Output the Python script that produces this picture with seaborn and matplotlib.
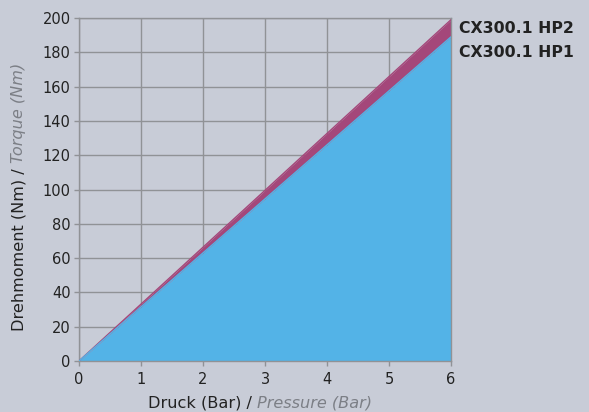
import matplotlib.pyplot as plt
import seaborn as sns
import pandas as pd

# values
pressure = [0, 6]
torque_hp1 = [0, 189]
torque_hp2 = [0, 199]
series_names = ["CX300.1 HP2", "CX300.1 HP1"]
x_ticks = [0, 1, 2, 3, 4, 5, 6]
y_ticks = [0, 20, 40, 60, 80, 100, 120, 140, 160, 180, 200]

bg = "#c8ccd7"
grid_col = "#909296"
blue = "#53b3e7"
purple = "#a4477a"
text_col = "#222222"
grey_text = "#7c7f86"

sns.set_style("whitegrid", {
    "axes.facecolor": bg,
    "figure.facecolor": bg,
    "grid.color": grid_col,
    "axes.edgecolor": grid_col,
    "xtick.bottom": True,
    "ytick.left": True,
})
plt.rcParams["font.family"] = ["DejaVu Sans"]
plt.rcParams["xtick.major.size"] = 3.6
plt.rcParams["ytick.major.size"] = 3.6

df = pd.DataFrame({
    "pressure": pressure * 2,
    "torque": torque_hp2 + torque_hp1,
    "series": [series_names[0]] * 2 + [series_names[1]] * 2,
})

fig = plt.figure(figsize=(5.89, 4.12), dpi=100)
ax = fig.add_axes([79 / 589, 1 - 361 / 412, (451 - 79) / 589, (361 - 18) / 412])

ax.fill_between(pressure, 0, torque_hp1, color=blue, lw=0, zorder=2)
ax.fill_between(pressure, torque_hp1, torque_hp2, color=purple, lw=0, zorder=2)
sns.lineplot(data=df, x="pressure", y="torque", hue="series",
             palette=[purple, blue], lw=1, legend=False, ax=ax, zorder=3)

ax.set_xlim(0, 6)
ax.set_ylim(0, 200)
ax.set_xticks(x_ticks)
ax.set_yticks(y_ticks)
ax.grid(True, color=grid_col, lw=1)
ax.set_axisbelow(True)
for s in ax.spines.values():
    s.set_color(grid_col)
    s.set_linewidth(1)
ax.tick_params(bottom=True, left=True, length=3.6, width=1, color=grid_col,
               labelsize=10.5, labelcolor=text_col)
ax.tick_params(axis="x", pad=4.5)
ax.tick_params(axis="y", pad=2.5)
ax.set_xlabel("")
ax.set_ylabel("")

# series labels at the right end of the lines
ax.annotate(series_names[0], xy=(6, torque_hp2[-1]), xytext=(6, -6),
            textcoords="offset points", fontsize=11.3, fontweight="bold",
            color=text_col, va="center", annotation_clip=False)
ax.annotate(series_names[1], xy=(6, torque_hp1[-1]), xytext=(6, -11.5),
            textcoords="offset points", fontsize=11.3, fontweight="bold",
            color=text_col, va="center", annotation_clip=False)

# two-tone axis labels
lab_size = 11.6
xl = fig.text(148 / 589, 2 / 412, "Druck (Bar) / ", fontsize=lab_size,
              color=text_col, va="bottom", ha="left")
ax.annotate("Pressure (Bar)", xy=(1, 0), xycoords=xl, fontsize=lab_size,
            color=grey_text, style="italic", va="bottom", ha="left")
yl = fig.text(11 / 589, 1 - 331 / 412, "Drehmoment (Nm) / ", fontsize=lab_size,
              color=text_col, rotation=90, va="bottom", ha="left")
ax.annotate("Torque (Nm)", xy=(0, 1), xycoords=yl, fontsize=lab_size,
            color=grey_text, style="italic", rotation=90, va="bottom", ha="left")

fig.savefig("out.png", dpi=100, facecolor=bg)
